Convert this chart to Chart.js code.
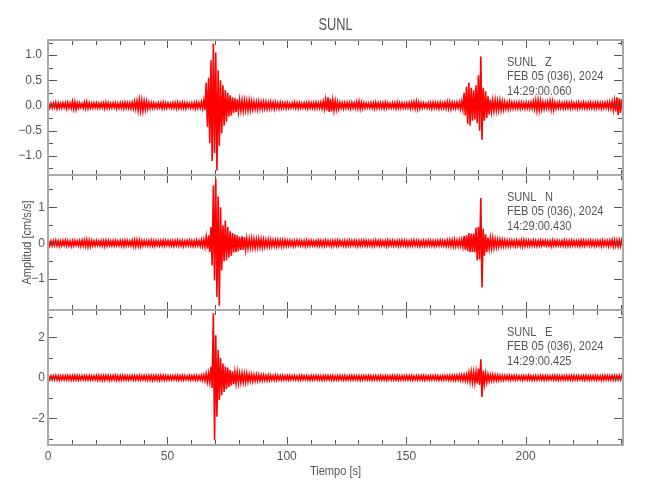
<!DOCTYPE html>
<html>
<head>
<meta charset="utf-8">
<script src="https://cdn.jsdelivr.net/npm/chart.js@4.4.1/dist/chart.umd.min.js"></script>
<style>
  html, body { margin: 0; padding: 0; background: #fff; }
  #wrap { width: 650px; height: 500px; }
</style>
</head>
<body>
<div id="wrap"><canvas id="seis" width="650" height="500"></canvas></div>
<script>
const station = 'SUNL';
const dateLabel = 'FEB 05 (036), 2024';
const channels = ['Z', 'N', 'E'];
const startTimes = ['14:29:00.060', '14:29:00.430', '14:29:00.425'];

// x axis (seconds)
const xTicks = [0, 50, 100, 150, 200];
const xMinor = [0, 10, 20, 30, 40, 50, 60, 70, 80, 90, 100, 110, 120, 130, 140, 150, 160, 170, 180, 190, 200, 210, 220, 230, 240];

// y ticks per channel
const zTicks = [-1, -0.5, 0, 0.5, 1];
const zTickLabels = ['\u22121.0', '\u22120.5', '0.0', '0.5', '1.0'];
const zMinor = [-1.25, -1, -0.75, -0.5, -0.25, 0, 0.25, 0.5, 0.75, 1, 1.25];
const nTicks = [-1, 0, 1];
const nTickLabels = ['\u22121', '0', '1'];
const nMinor = [-1.5, -1, -0.5, 0, 0.5, 1, 1.5];
const eTicks = [-2, 0, 2];
const eTickLabels = ['\u22122', '0', '2'];
const eMinor = [-3, -2, -1, 0, 1, 2, 3];

// peak (max / min) amplitude in each 1 s window, t = 0..240 s, cm/s/s
const zTop = [
  .05,.04,.05,.06,.05,.04,.05,.05,.06,.05,
  .08,.07,.05,.05,.04,.06,.07,.05,.04,.05,
  .05,.04,.05,.05,.06,.05,.04,.05,.05,.04,
  .05,.05,.06,.05,.05,.06,.08,.09,.11,.10,
  .09,.08,.06,.05,.05,.04,.05,.05,.06,.05,
  .05,.04,.05,.05,.06,.05,.06,.05,.05,.04,
  .05,.05,.06,.05,.07,.10,.45,.55,.90,1.23,
  1.05,.70,.50,.40,.30,.25,.20,.16,.14,.12,
  .11,.10,.10,.09,.10,.08,.08,.07,.08,.07,
  .07,.07,.06,.07,.06,.06,.05,.06,.05,.05,
  .05,.04,.05,.06,.05,.05,.04,.05,.05,.06,
  .05,.05,.06,.05,.06,.08,.12,.16,.13,.11,
  .09,.07,.06,.05,.05,.06,.05,.06,.05,.07,
  .08,.06,.05,.05,.04,.05,.05,.06,.05,.05,
  .05,.06,.05,.04,.05,.05,.06,.05,.05,.04,
  .05,.05,.06,.07,.08,.06,.05,.05,.04,.05,
  .05,.06,.05,.05,.06,.05,.06,.07,.07,.06,
  .05,.06,.06,.08,.25,.37,.45,.35,.30,.40,
  .60,.97,.35,.28,.18,.12,.10,.11,.09,.10,
  .08,.07,.06,.07,.06,.06,.05,.06,.06,.05,
  .06,.05,.06,.08,.10,.11,.09,.07,.06,.07,
  .09,.08,.06,.05,.06,.05,.05,.06,.05,.06,
  .05,.05,.06,.05,.06,.05,.05,.06,.05,.05,
  .06,.05,.05,.06,.06,.07,.08,.10,.16,.14,.12
];
const zBot = [
  -.05,-.05,-.04,-.06,-.05,-.05,-.04,-.06,-.05,-.05,
  -.07,-.08,-.05,-.04,-.05,-.06,-.06,-.05,-.05,-.04,
  -.05,-.05,-.04,-.06,-.05,-.05,-.05,-.04,-.06,-.05,
  -.05,-.06,-.05,-.05,-.06,-.06,-.07,-.10,-.10,-.11,
  -.08,-.07,-.06,-.05,-.05,-.05,-.04,-.06,-.05,-.05,
  -.04,-.05,-.05,-.06,-.05,-.05,-.05,-.06,-.04,-.05,
  -.05,-.06,-.05,-.05,-.06,-.09,-.42,-.75,-1.10,-.95,
  -1.29,-.80,-.55,-.40,-.32,-.22,-.20,-.15,-.13,-.12,
  -.10,-.11,-.09,-.10,-.09,-.08,-.07,-.08,-.07,-.07,
  -.06,-.07,-.06,-.06,-.07,-.05,-.06,-.05,-.05,-.06,
  -.05,-.05,-.04,-.05,-.06,-.05,-.05,-.05,-.06,-.05,
  -.05,-.06,-.05,-.05,-.06,-.07,-.10,-.13,-.12,-.10,
  -.08,-.07,-.05,-.06,-.05,-.05,-.06,-.05,-.05,-.06,
  -.07,-.06,-.05,-.04,-.05,-.05,-.06,-.05,-.05,-.05,
  -.06,-.05,-.05,-.05,-.04,-.06,-.05,-.05,-.05,-.05,
  -.05,-.06,-.05,-.06,-.07,-.06,-.05,-.04,-.05,-.05,
  -.06,-.05,-.05,-.06,-.05,-.05,-.06,-.06,-.07,-.05,
  -.06,-.05,-.07,-.08,-.20,-.36,-.40,-.30,-.28,-.35,
  -.50,-.68,-.30,-.25,-.18,-.12,-.11,-.10,-.09,-.09,
  -.08,-.07,-.07,-.06,-.06,-.05,-.06,-.06,-.05,-.06,
  -.05,-.06,-.06,-.07,-.10,-.09,-.08,-.07,-.06,-.06,
  -.08,-.09,-.06,-.05,-.05,-.06,-.05,-.05,-.06,-.05,
  -.05,-.06,-.05,-.05,-.05,-.06,-.05,-.05,-.06,-.05,
  -.05,-.06,-.05,-.05,-.06,-.06,-.09,-.12,-.19,-.15,-.12
];
const nTop = [
  .07,.06,.07,.08,.07,.06,.07,.08,.07,.06,
  .07,.07,.06,.07,.08,.09,.10,.08,.07,.06,
  .07,.06,.07,.07,.08,.07,.06,.07,.07,.06,
  .07,.07,.08,.07,.06,.08,.09,.09,.08,.07,
  .07,.06,.07,.08,.07,.07,.06,.07,.08,.07,
  .07,.06,.07,.07,.08,.07,.07,.06,.07,.08,
  .07,.07,.08,.07,.09,.10,.18,.22,.45,1.61,
  1.80,1.30,1.00,.50,.63,.45,.33,.28,.25,.22,
  .18,.19,.17,.13,.12,.13,.12,.11,.12,.11,
  .10,.09,.10,.09,.09,.08,.09,.08,.08,.09,
  .07,.08,.07,.07,.08,.07,.06,.07,.08,.07,
  .07,.06,.07,.08,.07,.07,.08,.07,.06,.07,
  .07,.08,.07,.06,.07,.07,.08,.07,.07,.06,
  .07,.07,.08,.07,.06,.07,.07,.08,.07,.07,
  .06,.07,.08,.07,.07,.06,.07,.07,.08,.07,
  .07,.06,.07,.08,.07,.07,.06,.07,.07,.08,
  .07,.07,.06,.07,.08,.07,.07,.08,.09,.09,
  .10,.08,.09,.10,.20,.22,.28,.26,.27,.43,
  .45,1.26,.40,.25,.16,.15,.14,.11,.10,.10,
  .09,.08,.08,.07,.08,.07,.08,.07,.08,.09,
  .08,.07,.07,.08,.07,.07,.08,.07,.07,.06,
  .07,.08,.07,.07,.06,.07,.08,.07,.07,.07,
  .07,.06,.07,.08,.07,.07,.07,.08,.07,.06,
  .07,.07,.08,.07,.07,.08,.09,.09,.08,.09,.08
];
const nBot = [
  -.07,-.07,-.06,-.07,-.08,-.07,-.06,-.07,-.07,-.08,
  -.07,-.06,-.07,-.08,-.07,-.08,-.10,-.09,-.07,-.07,
  -.06,-.07,-.07,-.08,-.07,-.06,-.07,-.07,-.06,-.07,
  -.07,-.08,-.07,-.06,-.07,-.08,-.09,-.08,-.09,-.07,
  -.06,-.07,-.07,-.07,-.08,-.06,-.07,-.07,-.07,-.06,
  -.07,-.07,-.08,-.06,-.07,-.07,-.08,-.07,-.06,-.07,
  -.08,-.07,-.07,-.08,-.09,-.10,-.15,-.25,-.62,-1.04,
  -1.50,-1.74,-.76,-.50,-.48,-.40,-.35,-.26,-.25,-.22,
  -.19,-.18,-.18,-.14,-.12,-.12,-.13,-.11,-.11,-.12,
  -.10,-.10,-.09,-.09,-.08,-.09,-.08,-.09,-.08,-.08,
  -.07,-.07,-.08,-.07,-.06,-.07,-.07,-.08,-.07,-.07,
  -.06,-.07,-.07,-.07,-.08,-.07,-.06,-.07,-.08,-.07,
  -.07,-.07,-.06,-.07,-.08,-.07,-.07,-.06,-.07,-.08,
  -.07,-.06,-.07,-.07,-.07,-.08,-.07,-.06,-.07,-.07,
  -.07,-.08,-.07,-.06,-.07,-.07,-.08,-.07,-.06,-.07,
  -.08,-.07,-.07,-.06,-.07,-.08,-.07,-.07,-.07,-.06,
  -.07,-.08,-.07,-.07,-.06,-.07,-.08,-.07,-.08,-.09,
  -.09,-.09,-.08,-.10,-.18,-.22,-.25,-.24,-.25,-.48,
  -.45,-1.23,-.35,-.25,-.15,-.14,-.13,-.11,-.10,-.09,
  -.08,-.09,-.08,-.08,-.07,-.08,-.07,-.08,-.09,-.08,
  -.07,-.08,-.07,-.07,-.08,-.07,-.07,-.06,-.07,-.07,
  -.08,-.07,-.07,-.06,-.07,-.07,-.07,-.08,-.07,-.06,
  -.07,-.07,-.08,-.07,-.07,-.06,-.07,-.07,-.08,-.07,
  -.07,-.08,-.07,-.07,-.08,-.07,-.09,-.08,-.09,-.08,-.08
];
const eTop = [
  .10,.09,.10,.11,.10,.09,.10,.10,.11,.10,
  .10,.11,.10,.09,.10,.11,.10,.10,.09,.10,
  .11,.12,.11,.10,.12,.11,.10,.11,.12,.10,
  .10,.11,.10,.09,.10,.11,.10,.10,.11,.10,
  .11,.10,.12,.11,.10,.11,.10,.12,.11,.10,
  .10,.09,.10,.11,.10,.10,.11,.10,.09,.10,
  .10,.11,.10,.10,.12,.14,.20,.22,.54,3.18,
  2.10,1.37,.97,.70,.55,.50,.38,.32,.28,.28,
  .22,.23,.21,.22,.17,.16,.15,.16,.15,.14,
  .13,.12,.13,.12,.11,.12,.11,.10,.11,.10,
  .10,.11,.10,.10,.09,.10,.11,.10,.10,.09,
  .10,.10,.11,.10,.09,.10,.10,.11,.10,.10,
  .09,.10,.11,.10,.10,.09,.10,.11,.10,.10,
  .10,.09,.10,.11,.10,.10,.09,.10,.10,.11,
  .10,.10,.09,.10,.11,.10,.10,.09,.10,.10,
  .11,.10,.10,.09,.10,.10,.11,.10,.10,.09,
  .10,.11,.10,.10,.09,.10,.11,.10,.11,.12,
  .11,.12,.13,.14,.15,.16,.25,.30,.28,.30,
  .45,.91,.35,.22,.18,.14,.15,.14,.13,.12,
  .11,.10,.11,.10,.10,.11,.10,.10,.09,.10,
  .10,.11,.10,.09,.10,.10,.11,.10,.10,.09,
  .10,.10,.11,.10,.09,.10,.10,.11,.10,.10,
  .11,.10,.10,.09,.10,.11,.10,.10,.11,.10,
  .10,.09,.10,.11,.10,.10,.11,.10,.10,.11,.10
];
const eBot = [
  -.10,-.10,-.09,-.10,-.11,-.10,-.10,-.09,-.10,-.11,
  -.10,-.10,-.11,-.10,-.09,-.10,-.10,-.11,-.10,-.09,
  -.11,-.11,-.12,-.11,-.10,-.12,-.11,-.10,-.11,-.12,
  -.10,-.10,-.11,-.10,-.09,-.10,-.10,-.11,-.10,-.10,
  -.10,-.11,-.11,-.12,-.10,-.11,-.12,-.10,-.11,-.10,
  -.10,-.10,-.09,-.10,-.11,-.10,-.10,-.09,-.10,-.11,
  -.10,-.10,-.11,-.10,-.12,-.15,-.20,-.22,-.50,-3.08,
  -1.92,-1.10,-.86,-.70,-.55,-.45,-.38,-.32,-.28,-.26,
  -.22,-.21,-.22,-.20,-.16,-.17,-.15,-.15,-.14,-.13,
  -.12,-.13,-.12,-.11,-.12,-.11,-.10,-.11,-.10,-.10,
  -.10,-.10,-.09,-.10,-.11,-.10,-.10,-.09,-.10,-.11,
  -.10,-.09,-.10,-.10,-.11,-.10,-.09,-.10,-.10,-.11,
  -.10,-.10,-.09,-.10,-.11,-.10,-.10,-.10,-.09,-.10,
  -.11,-.10,-.10,-.09,-.10,-.11,-.10,-.10,-.09,-.10,
  -.10,-.11,-.10,-.10,-.09,-.10,-.11,-.10,-.10,-.09,
  -.10,-.10,-.11,-.10,-.10,-.09,-.10,-.11,-.10,-.10,
  -.10,-.09,-.10,-.11,-.10,-.10,-.09,-.10,-.11,-.11,
  -.12,-.11,-.12,-.13,-.14,-.15,-.20,-.22,-.25,-.28,
  -.35,-.94,-.30,-.22,-.17,-.14,-.14,-.13,-.12,-.12,
  -.11,-.10,-.10,-.11,-.10,-.10,-.09,-.10,-.11,-.10,
  -.10,-.10,-.11,-.10,-.10,-.09,-.10,-.11,-.10,-.10,
  -.09,-.10,-.10,-.11,-.10,-.10,-.09,-.10,-.10,-.11,
  -.10,-.10,-.09,-.10,-.11,-.10,-.10,-.10,-.09,-.10,
  -.10,-.11,-.10,-.10,-.09,-.10,-.10,-.11,-.10,-.10,-.11
];

const FONT = "'Liberation Sans', Arial, sans-serif";
const TEXT = '#555';

// each 1 s window becomes one swing from its max to its min
function trace(top, bot) {
  const pts = [];
  top.forEach((v, i) => {
    pts.push({x: i + 0.25, y: v});
    pts.push({x: i + 0.75, y: bot[i]});
  });
  return pts;
}

const panels = [
  {id: 'yZ', ticks: zTicks, minor: zMinor},
  {id: 'yN', ticks: nTicks, minor: nMinor},
  {id: 'yE', ticks: eTicks, minor: eMinor}
];

function yScale(min, max, ticks, labels, pad) {
  return {
    type: 'linear', position: 'left', stack: 'traces', stackWeight: 1,
    min: min, max: max, bounds: 'data',
    afterBuildTicks: s => { s.ticks = ticks.map(v => ({value: v})); },
    afterFit: s => { s.width = 48; },
    grid: {display: false, drawTicks: false},
    border: {display: false},
    ticks: {color: TEXT, font: {size: 12}, padding: pad, callback: (v, i) => labels[i]}
  };
}

// narrow text, like the plotting font of the original
function narrowText(ctx, str, x, y, sx) {
  ctx.save();
  ctx.translate(x, y);
  ctx.scale(sx, 1);
  ctx.fillText(str, 0, 0);
  ctx.restore();
}

const framePlugin = {
  id: 'frame',
  afterDatasetsDraw(chart) {
    const {ctx, chartArea, scales} = chart;
    const left = chartArea.left, right = chartArea.right;
    const x = scales.x;
    panels.forEach(p => {
      const s = scales[p.id];
      const top = s.top, bottom = s.bottom;
      ctx.save();
      ctx.strokeStyle = '#555';
      ctx.lineWidth = 1;
      ctx.beginPath();
      xMinor.forEach(v => {
        const px = Math.round(x.getPixelForValue(v)) + 0.5;
        const len = xTicks.includes(v) ? 8 : 5;
        ctx.moveTo(px, top); ctx.lineTo(px, top + len);
        ctx.moveTo(px, bottom); ctx.lineTo(px, bottom - len);
      });
      p.minor.forEach(v => {
        const py = Math.round(s.getPixelForValue(v)) + 0.5;
        const len = p.ticks.includes(v) ? 9 : 5;
        ctx.moveTo(left, py); ctx.lineTo(left + len, py);
        ctx.moveTo(right, py); ctx.lineTo(right - len, py);
      });
      ctx.stroke();
      ctx.strokeStyle = '#aaa';
      ctx.lineWidth = 2;
      ctx.strokeRect(left, top, right - left, bottom - top);
      ctx.restore();
    });
  },
  afterDraw(chart) {
    const {ctx, chartArea, scales} = chart;
    const cx = (chartArea.left + chartArea.right) / 2;
    ctx.save();
    ctx.fillStyle = TEXT;
    ctx.textBaseline = 'alphabetic';
    ctx.textAlign = 'center';
    ctx.font = '16px ' + FONT;
    narrowText(ctx, station, cx, 30, 0.8);
    ctx.font = '13px ' + FONT;
    narrowText(ctx, 'Tiempo [s]', cx, 475, 0.85);
    ctx.save();
    const yMid = (scales.yN.top + scales.yN.bottom) / 2;
    ctx.translate(31, yMid);
    ctx.rotate(-Math.PI / 2);
    narrowText(ctx, 'Amplitud [cm/s/s]', 0, 0, 0.85);
    ctx.restore();
    ctx.textAlign = 'left';
    panels.forEach((p, i) => {
      const top = scales[p.id].top;
      narrowText(ctx, station, 507, top + 26, 0.85);
      narrowText(ctx, channels[i], 545, top + 26, 0.85);
      narrowText(ctx, dateLabel, 507, top + 40.3, 0.85);
      narrowText(ctx, startTimes[i], 507, top + 54.6, 0.85);
    });
    ctx.restore();
  }
};

Chart.defaults.font.family = FONT;

new Chart(document.getElementById('seis'), {
  type: 'line',
  data: {
    datasets: [
      {label: channels[0], data: trace(zTop, zBot), yAxisID: 'yZ'},
      {label: channels[1], data: trace(nTop, nBot), yAxisID: 'yN'},
      {label: channels[2], data: trace(eTop, eBot), yAxisID: 'yE'}
    ].map(d => Object.assign(d, {borderColor: '#ff0000', borderWidth: 1.6, pointRadius: 0, tension: 0, fill: false}))
  },
  options: {
    responsive: false,
    animation: false,
    events: [],
    layout: {padding: {top: 40, right: 27, left: 0, bottom: 0}},
    plugins: {legend: {display: false}, title: {display: false}, tooltip: {enabled: false}},
    scales: {
      x: {
        type: 'linear', min: 0, max: 240.8, bounds: 'data',
        afterBuildTicks: s => { s.ticks = xTicks.map(v => ({value: v})); },
        afterFit: s => { s.height = 55; },
        grid: {display: false, drawTicks: false},
        border: {display: false},
        ticks: {color: TEXT, font: {size: 12}, padding: 4, maxRotation: 0, autoSkip: false}
      },
      yE: yScale(-3.31, 3.34, eTicks, eTickLabels, 3),
      yN: yScale(-1.86, 1.90, nTicks, nTickLabels, 3),
      yZ: yScale(-1.38, 1.30, zTicks, zTickLabels, 6)
    }
  },
  plugins: [framePlugin]
});
</script>
</body>
</html>
